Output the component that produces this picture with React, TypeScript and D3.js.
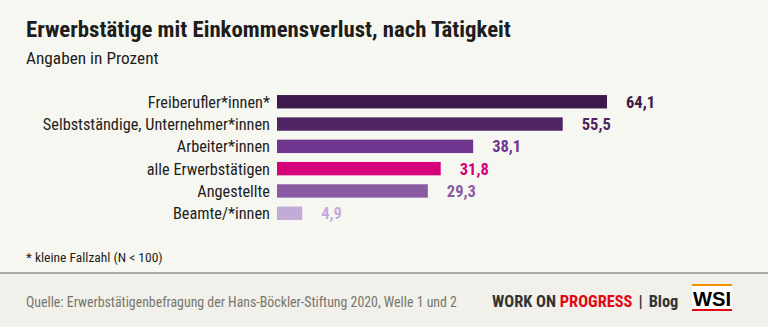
import React from "react";
import * as d3 from "d3";

const categories = [
  "Freiberufler*innen*",
  "Selbstständige, Unternehmer*innen",
  "Arbeiter*innen",
  "alle Erwerbstätigen",
  "Angestellte",
  "Beamte/*innen",
];
const values = [64.1, 55.5, 38.1, 31.8, 29.3, 4.9];
const colors = ["#3d1a4b", "#4f2462", "#6f368f", "#d5007a", "#8a5ba3", "#c3abd7"];

const W = 768;
const H = 327;
const FONT = "'Liberation Sans Narrow', 'Roboto Condensed', 'Liberation Sans', sans-serif";

export default function App() {
  const x = d3.scaleLinear().domain([0, 64.1]).range([277, 607]);
  const y = d3.scaleBand<string>().domain(categories).range([95 - 4.4, 220 + 4.4]).paddingInner(0.4).paddingOuter(0.2);
  const bh = y.bandwidth();
  const fmt = (v: number) => d3.format(".1f")(v).replace(".", ",");
  return (
    <svg width={W} height={H} style={{ position: "absolute", left: 0, top: 0 }} fontFamily={FONT}>
      <rect x={0} y={0} width={W} height={H} fill="#f7f7f2" />
      <rect x={0} y={273} width={W} height={H - 273} fill="#f1f0ea" />
      <line x1={0} x2={W} y1={273} y2={273} stroke="#8f8f8a" strokeWidth={1.5} />
      <text x={26} y={37} fontSize={22.8} fontWeight="bold" fill="#1d1d1b">
        Erwerbstätige mit Einkommensverlust, nach Tätigkeit
      </text>
      <text x={26} y={63.5} fontSize={17.3} fill="#1d1d1b">
        Angaben in Prozent
      </text>
      {categories.map((c, i) => {
        const yy = y(c)!;
        return (
          <g key={c}>
            <rect x={x(0)} y={yy} width={x(values[i]) - x(0)} height={bh} fill={colors[i]} />
            <text x={270} y={yy + bh / 2} dy="0.36em" textAnchor="end" fontSize={16.3} fill="#1d1d1b">
              {c}
            </text>
            <text x={x(values[i]) + 19} y={yy + bh / 2} dy="0.37em" fontSize={16.5} fontWeight="bold" fill={colors[i]}>
              {fmt(values[i])}
            </text>
          </g>
        );
      })}
      <text x={26} y={262} fontSize={13.5} fill="#1d1d1b">
        * kleine Fallzahl (N &lt; 100)
      </text>
      <text x={26} y={307} fontSize={13.85} fill="#77776f">
        Quelle: Erwerbstätigenbefragung der Hans-Böckler-Stiftung 2020, Welle 1 und 2
      </text>
      <text x={492} y={307} fontSize={16.4} fontWeight="bold" fill="#333">
        WORK ON <tspan fill="#e30613">PROGRESS</tspan>
        <tspan dx={6}>|</tspan>
        <tspan dx={6}>Blog</tspan>
      </text>
      <rect x={692} y={284} width={40} height={27} fill="#ffffff" />
      <rect x={692} y={284} width={40} height={2} fill="#f39200" />
      <rect x={692} y={309} width={40} height={2} fill="#e30613" />
      <text x={693} y={306} fontSize={20} fontWeight="bold" fill="#000" textLength={38} lengthAdjust="spacingAndGlyphs" fontFamily="'Liberation Sans', Arial, sans-serif">
        WSI
      </text>
    </svg>
  );
}
